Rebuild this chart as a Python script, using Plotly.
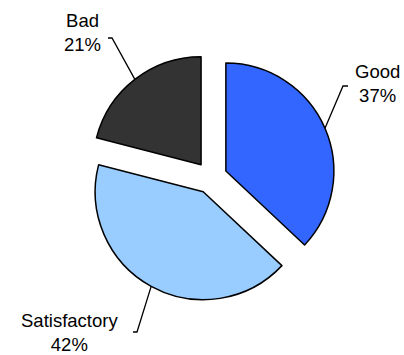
import math
import plotly.graph_objects as go

labels = ["Good", "Satisfactory", "Bad"]
values = [37, 42, 21]
colors = ["#3366FF", "#99CCFF", "#333333"]

W, H = 404, 355
CX, CY = 211, 177.5      # pie centre in px (from top-left)
R = 108                  # pie radius in px
PULL = 0.15              # every slice exploded by this fraction of R
FONT = dict(family="Liberation Sans, Arial, sans-serif", size=18.5, color="#000000")

half = R * (1 + PULL)
domain_x = [(CX - half) / W, (CX + half) / W]
domain_y = [1 - (CY + half) / H, 1 - (CY - half) / H]

# label block centres and leader-line elbows / ends, in px
label_pos = {"Good": (377.5, 83), "Satisfactory": (69, 332), "Bad": (82, 33)}
leader_elbow = {"Good": (343, 86), "Satisfactory": (137, 332), "Bad": (112, 38)}
leader_end = {"Good": (348, 86), "Satisfactory": (133, 332), "Bad": (108, 38)}


def px(x, y):
    return x / W, 1 - y / H


fig = go.Figure(
    go.Pie(
        labels=labels,
        values=values,
        sort=False,
        direction="clockwise",
        rotation=0,
        pull=[PULL] * len(values),
        marker=dict(colors=colors, line=dict(color="#000000", width=1.5)),
        textinfo="none",
        hoverinfo="label+percent",
        domain=dict(x=domain_x, y=domain_y),
        showlegend=False,
    )
)

total = sum(values)
annotations, shapes = [], []
cum = 0
for lab, v in zip(labels, values):
    mid = (cum + v / 2) / total * 2 * math.pi
    cum += v
    sx = CX + R * (1 + PULL) * math.sin(mid)
    sy = CY - R * (1 + PULL) * math.cos(mid)
    ex, ey = leader_elbow[lab]
    fx, fy = leader_end[lab]
    path = "M {} {} L {} {} L {} {}".format(*px(sx, sy), *px(ex, ey), *px(fx, fy))
    shapes.append(dict(type="path", path=path, xref="paper", yref="paper",
                       line=dict(color="#000000", width=1.3)))
    lx, ly = label_pos[lab]
    annotations.append(dict(
        text=f"{lab}<br>{round(v / total * 100)}%",
        x=lx / W, y=1 - ly / H, xref="paper", yref="paper",
        xanchor="center", yanchor="middle", align="center",
        showarrow=False, font=FONT,
    ))

fig.update_layout(
    width=W, height=H,
    margin=dict(l=0, r=0, t=0, b=0),
    paper_bgcolor="#FFFFFF",
    plot_bgcolor="#FFFFFF",
    annotations=annotations,
    shapes=shapes,
)

fig.write_html("out.html")
